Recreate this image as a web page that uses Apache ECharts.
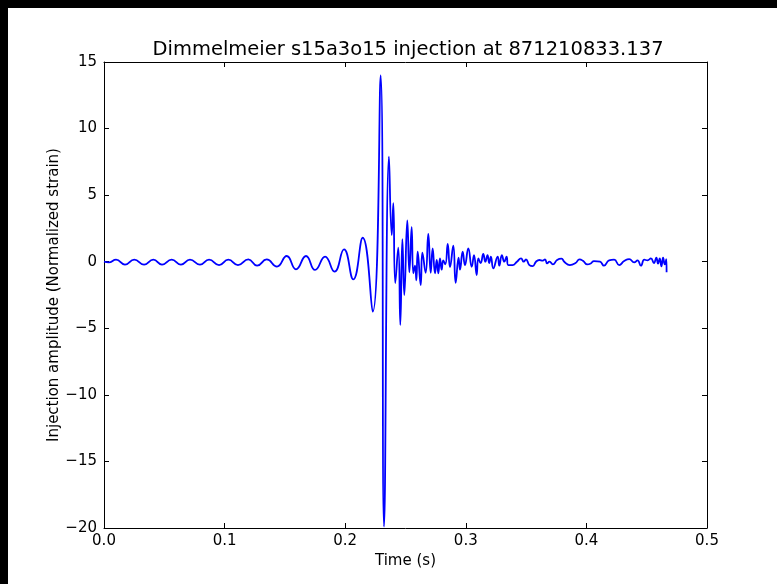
<!DOCTYPE html>
<html>
<head>
<meta charset="utf-8">
<script src="https://cdn.jsdelivr.net/npm/echarts@6/dist/echarts.min.js"></script>
<style>
  html, body { margin: 0; padding: 0; background: #fff; }
  #chart { width: 777px; height: 584px; }
</style>
</head>
<body>
<div id="chart"></div>
<script>
// Injected waveform: sample times (s) at the turning points of the trace
const times = [
  0.0000, 0.0040, 0.0100, 0.0174, 0.0251, 0.0332, 0.0409, 0.0481, 0.0561, 0.0638,
  0.0713, 0.0796, 0.0871, 0.0954, 0.1031, 0.1111, 0.1197, 0.1269, 0.1349, 0.1434,
  0.1515, 0.1592, 0.1675, 0.1750, 0.1833, 0.1911, 0.1990, 0.2067, 0.2145, 0.2228,
  0.2294, 0.2322, 0.2363, 0.2386, 0.2399, 0.2415, 0.2440, 0.2457, 0.2474, 0.2490,
  0.2515, 0.2532, 0.2551, 0.2565, 0.2579, 0.2590, 0.2601, 0.2626, 0.2640, 0.2667,
  0.2689, 0.2709, 0.2725, 0.2745, 0.2759, 0.2772, 0.2786, 0.2800, 0.2813, 0.2830,
  0.2850, 0.2869, 0.2896, 0.2916, 0.2940, 0.2952, 0.2974, 0.2993, 0.3021, 0.3049,
  0.3068, 0.3090, 0.3104, 0.3123, 0.3145, 0.3162, 0.3180, 0.3194, 0.3208, 0.3228,
  0.3264, 0.3278, 0.3299, 0.3319, 0.3338, 0.3352, 0.3388, 0.3424, 0.3458, 0.3480,
  0.3499, 0.3527, 0.3555, 0.3582, 0.3610, 0.3638, 0.3657, 0.3674, 0.3694, 0.3722,
  0.3757, 0.3794, 0.3816, 0.3863, 0.3910, 0.3943, 0.3974, 0.4007, 0.4036, 0.4063,
  0.4113, 0.4146, 0.4188, 0.4230, 0.4272, 0.4313, 0.4355, 0.4396, 0.4424, 0.4452,
  0.4480, 0.4507, 0.4535, 0.4560, 0.4580, 0.4594, 0.4608, 0.4622, 0.4636, 0.4650,
  0.4663, 0.4665
];
// Normalized strain amplitude at each of those times
const amplitudes = [
   0.00, -0.05,  0.15, -0.22,  0.15, -0.22,  0.15, -0.22,  0.15, -0.22,
   0.15, -0.22,  0.15, -0.25,  0.15, -0.25,  0.17, -0.30,  0.17, -0.37,
   0.43, -0.57,  0.43, -0.62,  0.38, -0.75,  0.93, -1.32,  1.80, -3.75,
  14.00, -19.90, 7.90,  2.00,  4.40, -1.60,  1.05, -4.75,  1.70, -2.50,
   3.10, -0.80,  2.60, -0.87, -0.30, -1.40,  0.75, -1.75,  0.68, -0.83,
   2.08, -0.83,  1.00, -0.87,  0.13, -0.87,  0.25, -0.60,  0.10, -0.20,
   1.33, -0.40,  1.20, -1.58,  0.30, -0.60,  0.75, -0.25,  1.00, -0.38,
   0.50, -1.00,  0.25, -0.10,  0.58,  0.00,  0.50, -0.10,  0.38, -0.50,
   0.38, -0.30,  0.50,  0.00,  0.38, -0.25, -0.25,  0.00,  0.25,  0.00,
   0.18, -0.25, -0.33,  0.00,  0.13,  0.08,  0.18, -0.13,  0.00, -0.20,
   0.13,  0.23,  0.00, -0.25, -0.10,  0.18,  0.05, -0.20, -0.13,  0.05,
   0.00, -0.30,  0.10,  0.15, -0.25,  0.05,  0.20, -0.05,  0.10, -0.30,
   0.15,  0.10,  0.25, -0.10,  0.30, -0.15,  0.25, -0.35,  0.30, -0.20,
   0.20, -0.80
];

const xTicks = [0, 0.1, 0.2, 0.3, 0.4, 0.5];
const yTicks = [-20, -15, -10, -5, 0, 5, 10, 15];

const titleText = 'Dimmelmeier s15a3o15 injection at 871210833.137';
const xName = 'Time (s)';
const yName = 'Injection amplitude (Normalized strain)';

const FONT = 'DejaVu Sans';
const series = times.map((t, i) => [t, amplitudes[i]]);
const minusFmt = v => String(v).replace('-', '\u2212');

const chart = echarts.init(document.getElementById('chart'), null, { renderer: 'canvas' });

// Shared look of the four frame sides: dark line with short inward ticks
const frameAxis = () => ({
  axisLine: { show: true, onZero: false, lineStyle: { color: '#000', width: 1 } },
  axisTick: { show: true, inside: true, length: 5, lineStyle: { color: '#000' } },
  splitLine: { show: false }
});

chart.setOption({
  animation: false,
  backgroundColor: '#fff',
  title: {
    text: titleText,
    left: 403,
    top: 35,
    textAlign: 'center',
    textStyle: { fontFamily: FONT, fontSize: 19.5, fontWeight: 'normal', color: '#000' }
  },
  grid: { left: 104, right: 70, top: 62, bottom: 56, containLabel: false },
  xAxis: [
    Object.assign(frameAxis(), {
      type: 'value', position: 'bottom',
      min: xTicks[0], max: xTicks[xTicks.length - 1], interval: 0.1,
      name: xName, nameLocation: 'middle', nameGap: 26, nameMoveOverlap: false,
      nameTextStyle: { fontFamily: FONT, fontSize: 15, color: '#000' },
      axisLabel: { fontFamily: FONT, fontSize: 15, color: '#000', margin: 6,
        formatter: v => v.toFixed(1) }
    }),
    Object.assign(frameAxis(), {
      type: 'value', position: 'top',
      min: xTicks[0], max: xTicks[xTicks.length - 1], interval: 0.1,
      axisLabel: { show: false }
    })
  ],
  yAxis: [
    Object.assign(frameAxis(), {
      type: 'value', position: 'left',
      min: yTicks[0], max: yTicks[yTicks.length - 1], interval: 5,
      name: yName, nameLocation: 'middle', nameGap: 42, nameRotate: 90, nameMoveOverlap: false,
      nameTextStyle: { fontFamily: FONT, fontSize: 15, color: '#000' },
      axisLabel: { fontFamily: FONT, fontSize: 15, color: '#000', margin: 7,
        formatter: minusFmt }
    }),
    Object.assign(frameAxis(), {
      type: 'value', position: 'right',
      min: yTicks[0], max: yTicks[yTicks.length - 1], interval: 5,
      axisLabel: { show: false }
    })
  ],
  series: [{
    type: 'line',
    data: series,
    xAxisIndex: 0,
    yAxisIndex: 0,
    smooth: 0.5,
    showSymbol: false,
    lineStyle: { color: '#0000ff', width: 1.8 },
    z: 3
  }],
  graphic: [
    { type: 'rect', left: 0, top: 0, shape: { width: 8, height: 584 }, style: { fill: '#000' }, z: 10 },
    { type: 'rect', left: 0, top: 0, shape: { width: 777, height: 8 }, style: { fill: '#000' }, z: 10 }
  ]
});
</script>
</body>
</html>
